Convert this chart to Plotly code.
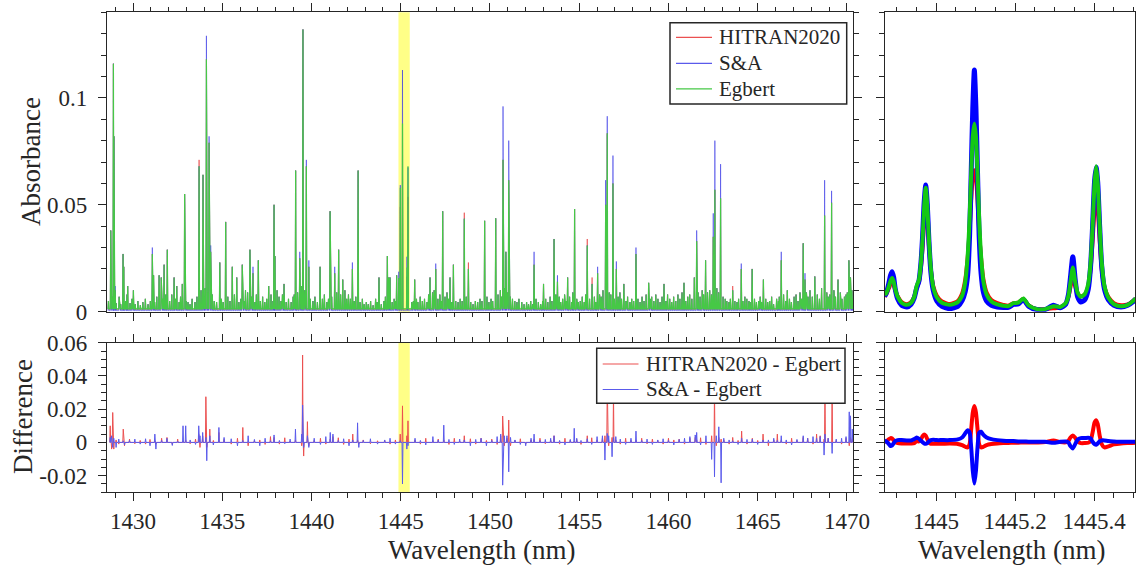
import plotly.graph_objects as go

# ---------------- data ----------------
# strong absorption lines (nm) and peak absorbance per line list
strong_nm = [
    1428.75, 1428.90, 1428.93, 1429.00, 1429.44, 1429.48, 1429.70, 1430.02, 1431.08, 1431.15,
    1431.46, 1431.58, 1431.74, 1431.92, 1432.30, 1432.45, 1432.76, 1432.89, 1433.70, 1433.92,
    1434.11, 1434.26, 1434.35, 1434.86, 1435.19, 1435.56, 1435.81, 1436.12, 1436.30, 1436.55,
    1436.72, 1437.02, 1437.60, 1437.90, 1437.95, 1438.46, 1439.11, 1439.34, 1439.52, 1439.71,
    1439.85, 1440.48, 1441.04, 1441.30, 1441.52, 1441.75, 1442.29, 1442.61, 1443.78, 1444.25,
    1444.33, 1444.40, 1444.77, 1444.889, 1444.974, 1445.097, 1445.346, 1445.405, 1445.78, 1446.64,
    1446.96, 1447.35, 1447.76, 1447.95, 1448.56, 1448.79, 1449.70, 1450.32, 1450.73, 1450.89,
    1451.05, 1452.47, 1453.00, 1453.59, 1453.78, 1454.35, 1454.74, 1455.45, 1455.72, 1456.03,
    1456.48, 1456.57, 1456.89, 1457.08, 1457.50, 1458.18, 1458.89, 1459.75, 1460.87, 1461.45,
    1461.58, 1462.08, 1462.51, 1462.60, 1462.92, 1463.60, 1464.08, 1464.69, 1465.32, 1466.32,
    1467.55, 1467.65, 1468.20, 1468.75, 1469.14, 1469.50, 1470.11, 1470.20]
egbert_strong = [
    0.038, 0.116, 0.082, 0.010, 0.027, 0.021, 0.012, 0.010, 0.027, 0.017,
    0.017, 0.016, 0.022, 0.029, 0.016, 0.012, 0.013, 0.055, 0.068, 0.064,
    0.118, 0.079, 0.028, 0.023, 0.042, 0.021, 0.016, 0.022, 0.010, 0.029,
    0.018, 0.024, 0.012, 0.050, 0.026, 0.013, 0.066, 0.025, 0.132, 0.068,
    0.021, 0.021, 0.047, 0.018, 0.029, 0.015, 0.020, 0.066, 0.016, 0.026,
    0.016, 0.016, 0.017, 0.0158, 0.058, 0.088, 0.0207, 0.068, 0.015, 0.016,
    0.020, 0.047, 0.016, 0.022, 0.0435, 0.020, 0.0425, 0.0437, 0.071, 0.028,
    0.0615, 0.022, 0.013, 0.034, 0.014, 0.016, 0.048, 0.031, 0.013, 0.018,
    0.050, 0.0834, 0.060, 0.020, 0.013, 0.027, 0.0135, 0.013, 0.0135, 0.016,
    0.033, 0.024, 0.035, 0.057, 0.053, 0.010, 0.020, 0.020, 0.015, 0.024,
    0.032, 0.015, 0.0165, 0.045, 0.051, 0.015, 0.024, 0.016]
sa_strong = [
    0.038, 0.116, 0.082, 0.012, 0.027, 0.021, 0.012, 0.010, 0.030, 0.017,
    0.017, 0.016, 0.022, 0.029, 0.016, 0.012, 0.013, 0.055, 0.068, 0.064,
    0.129, 0.082, 0.031, 0.023, 0.042, 0.021, 0.016, 0.022, 0.010, 0.029,
    0.021, 0.024, 0.012, 0.050, 0.026, 0.013, 0.066, 0.028, 0.132, 0.071,
    0.024, 0.021, 0.047, 0.021, 0.029, 0.015, 0.023, 0.066, 0.016, 0.026,
    0.016, 0.016, 0.017, 0.0187, 0.0592, 0.113, 0.0257, 0.0675, 0.015, 0.016,
    0.0225, 0.047, 0.016, 0.022, 0.0435, 0.020, 0.0425, 0.0437, 0.096, 0.028,
    0.080, 0.028, 0.013, 0.034, 0.017, 0.016, 0.048, 0.031, 0.013, 0.021,
    0.0615, 0.0914, 0.073, 0.0235, 0.013, 0.030, 0.0135, 0.013, 0.0135, 0.016,
    0.038, 0.024, 0.046, 0.080, 0.069, 0.010, 0.0225, 0.020, 0.015, 0.028,
    0.032, 0.018, 0.0165, 0.0615, 0.0565, 0.015, 0.024, 0.016]
hitran_strong = [
    0.038, 0.116, 0.082, 0.010, 0.027, 0.021, 0.012, 0.010, 0.027, 0.017,
    0.017, 0.016, 0.022, 0.029, 0.016, 0.012, 0.013, 0.055, 0.071, 0.064,
    0.118, 0.079, 0.028, 0.023, 0.042, 0.021, 0.016, 0.022, 0.010, 0.029,
    0.018, 0.024, 0.012, 0.050, 0.026, 0.013, 0.066, 0.025, 0.132, 0.068,
    0.021, 0.021, 0.047, 0.018, 0.029, 0.015, 0.020, 0.066, 0.016, 0.026,
    0.016, 0.016, 0.017, 0.0135, 0.049, 0.0662, 0.0163, 0.0537, 0.015, 0.016,
    0.020, 0.047, 0.016, 0.022, 0.0463, 0.023, 0.0425, 0.0437, 0.071, 0.028,
    0.0615, 0.022, 0.013, 0.034, 0.014, 0.016, 0.048, 0.034, 0.016, 0.018,
    0.050, 0.0834, 0.060, 0.020, 0.013, 0.027, 0.0135, 0.013, 0.0135, 0.016,
    0.033, 0.024, 0.035, 0.057, 0.053, 0.012, 0.020, 0.020, 0.015, 0.024,
    0.032, 0.015, 0.0165, 0.045, 0.051, 0.015, 0.024, 0.016]

# weak lines (common to the three line lists)
weak_nm = [
    1428.62, 1428.83,
    1429.05, 1429.22, 1429.31, 1429.58, 1429.66, 1429.83, 1429.94,
    1430.12, 1430.27, 1430.41, 1430.55, 1430.69, 1430.84, 1430.97,
    1431.21, 1431.33, 1431.67, 1431.84,
    1432.05, 1432.17, 1432.38, 1432.58, 1432.66, 1432.98,
    1433.08, 1433.19, 1433.31, 1433.47, 1433.58, 1433.81, 1433.99,
    1434.04, 1434.19, 1434.44, 1434.55, 1434.68, 1434.95,
    1435.05, 1435.31, 1435.43, 1435.68, 1435.93,
    1436.04, 1436.21, 1436.42, 1436.63, 1436.83, 1436.91,
    1437.13, 1437.26, 1437.38, 1437.49, 1437.73, 1437.84,
    1438.07, 1438.18, 1438.29, 1438.37, 1438.58, 1438.71, 1438.86, 1438.97,
    1439.03, 1439.22, 1439.42, 1439.62, 1439.93,
    1440.08, 1440.19, 1440.33, 1440.61, 1440.72, 1440.86, 1440.95,
    1441.13, 1441.41, 1441.63, 1441.87, 1441.97,
    1442.07, 1442.18, 1442.39, 1442.48, 1442.72, 1442.85, 1442.95,
    1443.07, 1443.18, 1443.31, 1443.45, 1443.59, 1443.68, 1443.91,
    1444.06, 1444.14, 1444.52, 1444.63, 1444.71,
    1445.62, 1445.71, 1445.88, 1445.96,
    1446.09, 1446.21, 1446.33, 1446.47, 1446.56, 1446.78, 1446.87,
    1447.08, 1447.19, 1447.27, 1447.48, 1447.59, 1447.68, 1447.86,
    1448.08, 1448.21, 1448.33, 1448.44, 1448.67, 1448.92,
    1449.05, 1449.18, 1449.31, 1449.44, 1449.55, 1449.83, 1449.94,
    1450.06, 1450.15, 1450.45, 1450.58, 1450.64, 1450.81, 1450.96,
    1451.14, 1451.26, 1451.39, 1451.51, 1451.62, 1451.78, 1451.91,
    1452.05, 1452.16, 1452.28, 1452.39, 1452.58, 1452.71, 1452.84, 1452.95,
    1453.12, 1453.24, 1453.37, 1453.47, 1453.69, 1453.88, 1453.96,
    1454.07, 1454.18, 1454.27, 1454.46, 1454.58, 1454.64, 1454.86, 1454.95,
    1455.06, 1455.17, 1455.28, 1455.36, 1455.58, 1455.85, 1455.93,
    1456.14, 1456.23, 1456.33, 1456.68, 1456.77, 1456.97,
    1457.18, 1457.28, 1457.37, 1457.62, 1457.71, 1457.84, 1457.94,
    1458.05, 1458.29, 1458.41, 1458.52, 1458.63, 1458.75, 1458.97,
    1459.06, 1459.18, 1459.29, 1459.41, 1459.53, 1459.64, 1459.86, 1459.95,
    1460.07, 1460.18, 1460.29, 1460.41, 1460.53, 1460.64, 1460.76, 1460.97,
    1461.08, 1461.19, 1461.31, 1461.66, 1461.77, 1461.89, 1461.97,
    1462.19, 1462.31, 1462.41, 1462.71, 1462.81,
    1463.06, 1463.18, 1463.27, 1463.39, 1463.47, 1463.72, 1463.84, 1463.93,
    1464.17, 1464.28, 1464.39, 1464.51, 1464.58, 1464.82, 1464.93,
    1465.06, 1465.14, 1465.22, 1465.45, 1465.56, 1465.67, 1465.78, 1465.89,
    1466.06, 1466.16, 1466.21, 1466.45, 1466.57, 1466.66, 1466.78, 1466.89,
    1467.04, 1467.15, 1467.26, 1467.37, 1467.46, 1467.73, 1467.82, 1467.93,
    1468.06, 1468.34, 1468.46, 1468.58, 1468.87, 1468.95,
    1469.04, 1469.27, 1469.36, 1469.63, 1469.72, 1469.86, 1469.95,
    1470.02, 1470.28, 1470.34]
weak_abs = [
    0.005, 0.007,
    0.004, 0.007, 0.0035, 0.005, 0.008, 0.004, 0.006,
    0.0035, 0.005, 0.003, 0.0045, 0.006, 0.0035, 0.005,
    0.0045, 0.007, 0.006, 0.008,
    0.005, 0.008, 0.006, 0.0045, 0.007, 0.005,
    0.0045, 0.0035, 0.006, 0.0045, 0.007, 0.010, 0.007,
    0.011, 0.009, 0.008, 0.005, 0.0045, 0.006,
    0.0045, 0.007, 0.005, 0.008, 0.0045,
    0.006, 0.005, 0.009, 0.007, 0.0045, 0.008,
    0.005, 0.007, 0.0045, 0.006, 0.008, 0.005,
    0.010, 0.007, 0.005, 0.008, 0.0045, 0.006, 0.0045, 0.007,
    0.008, 0.009, 0.012, 0.010, 0.006,
    0.005, 0.007, 0.0045, 0.006, 0.008, 0.0045, 0.006,
    0.007, 0.009, 0.008, 0.010, 0.006,
    0.008, 0.006, 0.005, 0.007, 0.0045, 0.006, 0.0035,
    0.0045, 0.0035, 0.005, 0.003, 0.006, 0.0045, 0.0035,
    0.005, 0.007, 0.0045, 0.006, 0.005,
    0.0045, 0.005, 0.006, 0.0045,
    0.007, 0.005, 0.006, 0.0045, 0.008, 0.009, 0.010,
    0.006, 0.008, 0.005, 0.007, 0.009, 0.006, 0.0045,
    0.005, 0.0045, 0.006, 0.005, 0.007, 0.0045,
    0.0035, 0.005, 0.0045, 0.006, 0.005, 0.007, 0.0045,
    0.006, 0.005, 0.008, 0.010, 0.007, 0.011, 0.009,
    0.007, 0.006, 0.005, 0.0045, 0.006, 0.0045, 0.0035,
    0.0045, 0.0035, 0.005, 0.0035, 0.006, 0.0045, 0.0035, 0.005,
    0.006, 0.0045, 0.007, 0.005, 0.008, 0.007, 0.0045,
    0.006, 0.008, 0.005, 0.007, 0.0045, 0.009, 0.006, 0.0045,
    0.005, 0.007, 0.0045, 0.008, 0.006, 0.007, 0.0045,
    0.008, 0.007, 0.010, 0.009, 0.008, 0.006,
    0.007, 0.009, 0.006, 0.005, 0.007, 0.0045, 0.006,
    0.005, 0.006, 0.0045, 0.007, 0.005, 0.008, 0.006,
    0.007, 0.005, 0.008, 0.006, 0.0045, 0.007, 0.005, 0.008,
    0.006, 0.0045, 0.007, 0.005, 0.008, 0.006, 0.009, 0.005,
    0.007, 0.008, 0.006, 0.009, 0.007, 0.010, 0.008,
    0.009, 0.010, 0.008, 0.011, 0.009,
    0.007, 0.006, 0.005, 0.0045, 0.006, 0.005, 0.0045, 0.006,
    0.005, 0.007, 0.006, 0.005, 0.0045, 0.006, 0.0045,
    0.005, 0.007, 0.0045, 0.006, 0.0045, 0.005, 0.007, 0.0035,
    0.006, 0.005, 0.007, 0.008, 0.005, 0.010, 0.006, 0.0045,
    0.007, 0.008, 0.005, 0.009, 0.006, 0.009, 0.007, 0.010,
    0.007, 0.008, 0.006, 0.011, 0.009, 0.007,
    0.008, 0.010, 0.007, 0.009, 0.006, 0.007, 0.008,
    0.009, 0.010, 0.006]

# absorbance level between lines
egbert_floor = 0.0013
sa_floor = 0.0005
hitran_floor = 0.0011

# difference spectrum (full range)
diff_nm = [
    1428.72, 1428.80, 1428.86, 1428.92, 1429.05, 1429.20, 1429.45, 1429.52, 1429.80, 1430.10,
    1430.40, 1430.70, 1430.95, 1431.22, 1431.28, 1431.60, 1431.90, 1432.20, 1432.50, 1432.80,
    1432.95, 1433.20, 1433.50, 1433.68, 1433.75, 1433.90, 1434.08, 1434.13, 1434.30, 1434.50,
    1434.81, 1435.10, 1435.50, 1435.85, 1436.15, 1436.45, 1436.80, 1437.10, 1437.40, 1437.70,
    1437.90, 1438.20, 1438.50, 1438.80, 1439.10, 1439.45, 1439.50, 1439.56, 1439.77, 1439.85,
    1440.15, 1440.50, 1440.80, 1441.05, 1441.20, 1441.50, 1441.80, 1442.10, 1442.31, 1442.58,
    1442.65, 1442.90, 1443.30, 1443.70, 1444.10, 1444.40, 1444.70, 1444.97, 1445.097, 1445.34,
    1445.405, 1445.80, 1446.10, 1446.40, 1446.80, 1447.10, 1447.41, 1447.70, 1448.00, 1448.30,
    1448.56, 1448.90, 1449.20, 1449.50, 1449.80, 1450.10, 1450.40, 1450.60, 1450.71, 1450.80,
    1450.95, 1451.05, 1451.15, 1451.40, 1451.70, 1452.00, 1452.30, 1452.47, 1452.80, 1453.10,
    1453.40, 1453.59, 1453.90, 1454.20, 1454.50, 1454.72, 1454.86, 1455.10, 1455.45, 1455.70,
    1456.00, 1456.30, 1456.44, 1456.57, 1456.65, 1456.84, 1456.92, 1457.05, 1457.30, 1457.60,
    1457.90, 1458.18, 1458.50, 1458.80, 1459.10, 1459.40, 1459.70, 1460.00, 1460.30, 1460.60,
    1460.90, 1461.20, 1461.50, 1461.58, 1461.80, 1462.10, 1462.42, 1462.58, 1462.68, 1462.82,
    1462.95, 1463.10, 1463.40, 1463.60, 1463.90, 1464.10, 1464.40, 1464.70, 1465.00, 1465.30,
    1465.60, 1465.90, 1466.10, 1466.32, 1466.60, 1466.90, 1467.20, 1467.55, 1467.80, 1468.10,
    1468.30, 1468.50, 1468.72, 1468.77, 1468.95, 1469.17, 1469.40, 1469.70, 1469.95, 1470.13,
    1470.20, 1470.30]
hitran_minus_egbert = [
    0.010, -0.004, 0.018, -0.004, 0.0015, -0.001, 0.008, -0.002, 0.002, -0.0008,
    0.0012, -0.001, 0.0018, 0.001, -0.001, 0.0025, 0.003, -0.0012, 0.002, 0.0008,
    0.0015, -0.0008, 0.002, 0.005, -0.003, 0.004, 0.0275, -0.003, 0.008, 0.0012,
    0.006, 0.0018, -0.001, 0.0025, 0.009, -0.002, 0.001, 0.0015, -0.0012, 0.0035,
    0.003, -0.001, 0.0028, 0.0008, 0.0015, -0.002, 0.0526, -0.0082, 0.0125, -0.002,
    0.0012, 0.0025, -0.001, 0.002, 0.0035, 0.0028, -0.0012, 0.002, 0.005, 0.0015,
    -0.001, 0.0015, -0.0008, 0.001, 0.0012, -0.001, 0.0015, 0.005, 0.022, 0.004,
    0.013, 0.0015, -0.001, 0.0025, 0.0012, 0.002, 0.0015, -0.0012, 0.0025, 0.0008,
    0.004, 0.0022, -0.001, 0.0025, 0.0012, 0.002, -0.0012, 0.004, 0.0159, -0.002,
    0.0025, 0.0135, -0.002, 0.0012, 0.0022, -0.001, 0.0015, 0.0018, 0.0025, -0.0008,
    0.0012, 0.004, -0.001, 0.0025, 0.0015, 0.0008, 0.0018, -0.0012, 0.004, 0.0028,
    0.0015, 0.0025, 0.004, 0.035, -0.002, 0.003, 0.030, 0.0015, -0.001, 0.0025,
    0.0012, 0.0015, 0.0025, -0.0008, 0.002, 0.0012, -0.001, 0.0025, 0.0015, 0.002,
    -0.001, 0.0025, 0.003, 0.0015, 0.0028, -0.0012, 0.004, 0.032, -0.002, 0.003,
    0.002, 0.0015, -0.001, 0.003, 0.0012, 0.0068, -0.001, 0.0025, 0.0012, 0.005,
    -0.002, 0.0015, 0.005, 0.0012, -0.001, 0.0025, 0.0012, 0.003, 0.0025, -0.001,
    0.005, 0.004, 0.002, 0.032, 0.0025, 0.032, 0.0012, -0.001, 0.0025, -0.002,
    0.003, 0.002]
sa_minus_egbert = [
    0.003, 0.004, -0.003, 0.0025, -0.003, 0.002, 0.001, -0.0015, 0.0012, 0.002,
    -0.001, 0.0022, -0.002, 0.005, -0.004, 0.0012, 0.0025, -0.0018, 0.0008, 0.010,
    0.010, 0.0015, -0.0012, 0.010, 0.004, 0.006, 0.003, -0.011, 0.004, -0.0015,
    0.009, 0.003, 0.0022, -0.002, 0.0012, 0.004, 0.0018, -0.002, 0.0025, 0.001,
    0.0045, 0.0012, -0.0008, 0.002, 0.008, 0.005, 0.0225, -0.003, 0.004, -0.003,
    0.0025, -0.0012, 0.0035, 0.006, 0.005, 0.0012, 0.0022, -0.002, 0.0015, 0.0118,
    -0.003, 0.0012, 0.0022, -0.001, 0.0015, 0.0025, -0.001, 0.001, -0.025, -0.004,
    -0.002, 0.0025, 0.0012, -0.0015, 0.0035, 0.0015, 0.0104, 0.0018, -0.0012, 0.002,
    0.0015, -0.002, 0.0018, 0.0025, -0.002, 0.0012, 0.0035, 0.005, -0.0257, 0.004,
    0.004, -0.0177, 0.003, 0.0015, -0.0012, -0.002, 0.0025, 0.005, 0.0012, 0.0018,
    0.0025, 0.004, 0.0012, -0.0015, 0.0018, 0.0085, 0.0025, 0.0012, 0.0022, -0.0012,
    0.0035, 0.004, -0.0106, 0.0054, 0.004, -0.0086, 0.003, 0.0035, 0.002, -0.0012,
    0.0025, 0.0068, 0.0012, 0.002, -0.0012, 0.0015, 0.0022, 0.0012, -0.0015, 0.0018,
    0.0025, 0.0035, 0.0045, 0.006, -0.0015, 0.004, -0.0102, -0.0207, 0.004, 0.0094,
    -0.0243, 0.0025, 0.0015, 0.001, -0.0012, 0.0025, 0.0018, 0.002, -0.0012, 0.0015,
    0.0015, 0.0025, 0.0012, 0.004, 0.0015, -0.0015, 0.0018, 0.004, 0.0025, 0.0035,
    0.0025, 0.0035, -0.0076, 0.005, 0.0025, -0.0066, 0.002, 0.0025, 0.0035, 0.0184,
    0.016, 0.008]

# zoomed window (highlighted band)
zoom_nm = [
    1444.870, 1444.875, 1444.881, 1444.885, 1444.889, 1444.893, 1444.897, 1444.903, 1444.913, 1444.926,
    1444.937, 1444.945, 1444.951, 1444.957, 1444.962, 1444.966, 1444.970, 1444.974, 1444.978, 1444.982,
    1444.987, 1444.993, 1445.002, 1445.015, 1445.035, 1445.055, 1445.066, 1445.074, 1445.080, 1445.085,
    1445.089, 1445.093, 1445.097, 1445.101, 1445.105, 1445.109, 1445.114, 1445.120, 1445.128, 1445.140,
    1445.155, 1445.170, 1445.183, 1445.196, 1445.208, 1445.221, 1445.234, 1445.255, 1445.276, 1445.297,
    1445.314, 1445.328, 1445.335, 1445.340, 1445.346, 1445.352, 1445.358, 1445.366, 1445.376, 1445.385,
    1445.391, 1445.396, 1445.401, 1445.405, 1445.409, 1445.414, 1445.419, 1445.426, 1445.436, 1445.450,
    1445.468, 1445.485, 1445.497, 1445.505]
zoom_egbert = [
    0.0078, 0.0090, 0.0120, 0.0145, 0.0158, 0.0140, 0.0105, 0.0070, 0.0042, 0.0032,
    0.0042, 0.0070, 0.0120, 0.0150, 0.0230, 0.0340, 0.0490, 0.0580, 0.0490, 0.0340,
    0.0200, 0.0115, 0.0068, 0.0042, 0.0032, 0.0045, 0.0075, 0.0140, 0.0260, 0.0440,
    0.0650, 0.0820, 0.0880, 0.0820, 0.0650, 0.0440, 0.0260, 0.0140, 0.0080, 0.0048,
    0.0034, 0.0028, 0.0026, 0.0040, 0.0042, 0.0062, 0.0030, 0.0012, 0.0012, 0.0026,
    0.0022, 0.0040, 0.0075, 0.0135, 0.0207, 0.0140, 0.0090, 0.0070, 0.0082, 0.0130,
    0.0230, 0.0400, 0.0600, 0.0680, 0.0600, 0.0400, 0.0230, 0.0120, 0.0065, 0.0035,
    0.0025, 0.0032, 0.0048, 0.0062]
zoom_sa = [
    0.0072, 0.0090, 0.0135, 0.0170, 0.0187, 0.0160, 0.0105, 0.0060, 0.0030, 0.0022,
    0.0035, 0.0065, 0.0110, 0.0145, 0.0230, 0.0350, 0.0510, 0.0592, 0.0500, 0.0335,
    0.0185, 0.0100, 0.0050, 0.0025, 0.0015, 0.0025, 0.0052, 0.0095, 0.0170, 0.0360,
    0.0650, 0.0950, 0.1130, 0.0950, 0.0650, 0.0360, 0.0180, 0.0090, 0.0050, 0.0030,
    0.0022, 0.0020, 0.0020, 0.0034, 0.0036, 0.0056, 0.0026, 0.0010, 0.0010, 0.0030,
    0.0018, 0.0035, 0.0080, 0.0160, 0.0257, 0.0150, 0.0070, 0.0045, 0.0055, 0.0105,
    0.0215, 0.0400, 0.0610, 0.0675, 0.0605, 0.0395, 0.0215, 0.0105, 0.0055, 0.0030,
    0.0022, 0.0030, 0.0045, 0.0060]
zoom_hitran = [
    0.0070, 0.0085, 0.0110, 0.0128, 0.0135, 0.0125, 0.0100, 0.0072, 0.0045, 0.0035,
    0.0045, 0.0070, 0.0110, 0.0140, 0.0210, 0.0300, 0.0420, 0.0490, 0.0430, 0.0310,
    0.0195, 0.0120, 0.0075, 0.0048, 0.0036, 0.0050, 0.0085, 0.0150, 0.0250, 0.0380,
    0.0520, 0.0630, 0.0662, 0.0630, 0.0520, 0.0380, 0.0250, 0.0150, 0.0090, 0.0055,
    0.0040, 0.0032, 0.0028, 0.0040, 0.0042, 0.0060, 0.0030, 0.0012, 0.0012, 0.0016,
    0.0020, 0.0038, 0.0070, 0.0115, 0.0163, 0.0120, 0.0085, 0.0072, 0.0080, 0.0120,
    0.0200, 0.0330, 0.0480, 0.0537, 0.0480, 0.0330, 0.0200, 0.0115, 0.0068, 0.0040,
    0.0030, 0.0034, 0.0048, 0.0060]
zoom_hitran_diff = [
    0.0000, 0.0008, 0.0020, 0.0026, 0.0024, 0.0012, 0.0002, -0.0004, -0.0006, -0.0006,
    -0.0006, -0.0004, 0.0008, 0.0006, 0.0018, 0.0038, 0.0048, 0.0040, 0.0020, 0.0000,
    -0.0008, -0.0008, -0.0008, -0.0008, -0.0007, -0.0009, -0.0016, -0.0026, -0.0030, -0.0010,
    0.0080, 0.0180, 0.0219, 0.0180, 0.0080, -0.0010, -0.0030, -0.0026, -0.0016, -0.0010,
    -0.0006, -0.0004, -0.0003, -0.0002, -0.0002, 0.0000, -0.0001, 0.0000, 0.0002, 0.0012,
    0.0002, 0.0000, 0.0010, 0.0030, 0.0042, 0.0028, 0.0006, -0.0004, -0.0004, -0.0002,
    0.0010, 0.0060, 0.0120, 0.0134, 0.0110, 0.0040, -0.0010, -0.0030, -0.0024, -0.0012,
    -0.0006, -0.0004, -0.0003, -0.0002]
zoom_sa_diff = [
    0.0012, 0.0005, -0.0010, -0.0022, -0.0018, -0.0004, 0.0008, 0.0014, 0.0014, 0.0012,
    0.0012, 0.0020, 0.0030, 0.0022, 0.0010, 0.0002, -0.0006, -0.0008, -0.0004, 0.0006,
    0.0014, 0.0016, 0.0014, 0.0014, 0.0014, 0.0018, 0.0030, 0.0055, 0.0074, 0.0060,
    -0.0030, -0.0170, -0.0247, -0.0170, -0.0030, 0.0058, 0.0064, 0.0045, 0.0030, 0.0020,
    0.0014, 0.0010, 0.0008, 0.0008, 0.0006, 0.0006, 0.0004, 0.0004, 0.0004, -0.0002,
    0.0004, 0.0006, 0.0000, -0.0022, -0.0036, -0.0010, 0.0016, 0.0026, 0.0026, 0.0028,
    0.0024, 0.0004, -0.0010, -0.0014, -0.0006, 0.0008, 0.0012, 0.0012, 0.0008, 0.0006,
    0.0004, 0.0004, 0.0004, 0.0004]

# axes ticks
main_xticks = [1430, 1435, 1440, 1445, 1450, 1455, 1460, 1465, 1470]
main_xticktext = ["1430", "1435", "1440", "1445", "1450", "1455", "1460", "1465", "1470"]
zoom_xticks = [1445.0, 1445.2, 1445.4]
zoom_xticktext = ["1445", "1445.2", "1445.4"]
abs_yticks = [0, 0.05, 0.1]
abs_yticktext = ["0", "0.05", "0.1"]
diff_yticks = [-0.02, 0, 0.02, 0.04, 0.06]
diff_yticktext = ["-0.02", "0", "0.02", "0.04", "0.06"]

for a, b in [(strong_nm, egbert_strong), (strong_nm, sa_strong), (strong_nm, hitran_strong),
             (weak_nm, weak_abs), (diff_nm, hitran_minus_egbert), (diff_nm, sa_minus_egbert),
             (zoom_nm, zoom_egbert), (zoom_nm, zoom_sa), (zoom_nm, zoom_hitran),
             (zoom_nm, zoom_hitran_diff), (zoom_nm, zoom_sa_diff)]:
    assert len(a) == len(b), (len(a), len(b))

# ---------------- helpers ----------------
W, H = 1136, 571
HALF = 0.025  # nm, drawn half-width of a line


def sticks(nm, vals, floor):
    xs, ys = [], []
    for p, v in sorted(zip(nm, vals)):
        xs += [p - HALF, p, p + HALF]
        ys += [floor, v, floor]
    return xs, ys


def px(xp, yp):
    return xp / W, 1 - yp / H


FONT = "Liberation Serif"
TXT = "#262626"
RED_T, BLUE_T, GREEN_T = "rgba(230,50,50,0.6)", "rgba(60,60,230,0.6)", "rgb(70,200,70)"
RED_L, BLUE_L = "rgb(235,80,80)", "rgb(90,90,235)"
RED, BLUE, GREEN = "rgb(255,0,0)", "rgb(0,0,255)", "rgb(20,200,20)"

fig = go.Figure()

# top-left absorbance
for name, strong, floor, col, wd in [("HITRAN2020", hitran_strong, hitran_floor, RED_T, 1),
                                     ("S&A", sa_strong, sa_floor, BLUE_T, 1),
                                     ("Egbert", egbert_strong, egbert_floor, GREEN_T, 1.2)]:
    xs, ys = sticks(strong_nm + weak_nm, strong + weak_abs, floor)
    fig.add_trace(go.Scatter(x=xs, y=ys, mode="lines", name=name, xaxis="x", yaxis="y",
                             line=dict(color=col, width=wd), showlegend=False))

# top-right zoom
for ys, col, wd in [(zoom_hitran, RED, 4), (zoom_sa, BLUE, 5), (zoom_egbert, GREEN, 4)]:
    fig.add_trace(go.Scatter(x=zoom_nm, y=ys, mode="lines", xaxis="x2", yaxis="y2",
                             line=dict(color=col, width=wd, shape="spline", smoothing=0.6),
                             showlegend=False))

# bottom-left difference
for name, d, col in [("HITRAN2020 - Egbert", hitran_minus_egbert, RED_L),
                     ("S&A - Egbert", sa_minus_egbert, BLUE_L)]:
    xs, ys = sticks(diff_nm, d, 0.0)
    fig.add_trace(go.Scatter(x=xs, y=ys, mode="lines", name=name, xaxis="x3", yaxis="y3",
                             line=dict(color=col, width=1), showlegend=False))

# bottom-right difference zoom
for ys, col in [(zoom_hitran_diff, RED), (zoom_sa_diff, BLUE)]:
    fig.add_trace(go.Scatter(x=zoom_nm, y=ys, mode="lines", xaxis="x4", yaxis="y4",
                             line=dict(color=col, width=4, shape="spline", smoothing=0.6),
                             showlegend=False))

LEFT = [107 / W, 853 / W]
RIGHT = [885 / W, 1135.3 / W]
TOP = [1 - 311.7 / H, 1 - 12.3 / H]
BOT = [1 - 492.3 / H, 1 - 342.7 / H]

common = dict(showline=True, linecolor=TXT, linewidth=1.3, mirror="allticks", ticks="outside",
              ticklen=8, tickwidth=1.2, tickcolor=TXT, showgrid=False, zeroline=False,
              tickfont=dict(family=FONT, size=23, color=TXT), tickmode="array", automargin=False)


def minor(d, t0):
    return dict(ticks="outside", ticklen=4.5, tickwidth=1.1, tickcolor=TXT, dtick=d, tick0=t0,
                tickmode="linear", showgrid=False)


# hand-drawn legends (box, line samples, labels) in pixel positions
legend_specs = [
    ((670, 22.7, 846.7, 104), 676, 712, 717,
     [("HITRAN2020", RED_L, 37.3), ("S&A", BLUE_L, 63.3), ("Egbert", GREEN_T, 88.8)]),
    ((596.7, 348.3, 845, 403.3), 602.7, 638.5, 643.5,
     [("HITRAN2020 - Egbert", RED_L, 364), ("S&A - Egbert", BLUE_L, 389.5)]),
]

shapes = [
    dict(type="rect", xref="x", yref="y domain", x0=1444.871, x1=1445.504, y0=0, y1=1,
         fillcolor="rgba(255,255,70,0.65)", line=dict(width=0), layer="below"),
    dict(type="rect", xref="x3", yref="y3 domain", x0=1444.871, x1=1445.504, y0=0, y1=1,
         fillcolor="rgba(255,255,70,0.65)", line=dict(width=0), layer="below"),
]
annotations = [
    dict(text="Absorbance", x=31 / W, y=1 - 162 / H, xref="paper", yref="paper",
         textangle=-90, showarrow=False, xanchor="center", yanchor="middle",
         font=dict(family=FONT, size=27, color=TXT)),
    dict(text="Difference", x=23 / W, y=1 - 417 / H, xref="paper", yref="paper",
         textangle=-90, showarrow=False, xanchor="center", yanchor="middle",
         font=dict(family=FONT, size=27, color=TXT)),
    dict(text="Wavelength (nm)", x=482 / W, y=1 - 550 / H, xref="paper", yref="paper",
         showarrow=False, xanchor="center", yanchor="middle",
         font=dict(family=FONT, size=27, color=TXT)),
    dict(text="Wavelength (nm)", x=1012 / W, y=1 - 550 / H, xref="paper", yref="paper",
         showarrow=False, xanchor="center", yanchor="middle",
         font=dict(family=FONT, size=27, color=TXT)),
]
for (bx0, by0, bx1, by1), lx0, lx1, tx, entries in legend_specs:
    x0, y0 = px(bx0, by0)
    x1, y1 = px(bx1, by1)
    shapes.append(dict(type="rect", xref="paper", yref="paper", x0=x0, x1=x1, y0=y1, y1=y0,
                       fillcolor="white", line=dict(color=TXT, width=1.5), layer="above"))
    for label, col, ey in entries:
        a0, yy = px(lx0, ey)
        a1, _ = px(lx1, ey)
        shapes.append(dict(type="line", xref="paper", yref="paper", x0=a0, x1=a1, y0=yy, y1=yy,
                           line=dict(color=col, width=1.2), layer="above"))
        annotations.append(dict(text=label, x=tx / W, y=yy, xref="paper", yref="paper",
                                showarrow=False, xanchor="left", yanchor="middle",
                                font=dict(family=FONT, size=21, color=TXT)))

fig.update_layout(
    width=W, height=H, margin=dict(l=0, r=0, t=0, b=0, autoexpand=False),
    paper_bgcolor="white", plot_bgcolor="white", showlegend=False,
    font=dict(family=FONT, color=TXT),
    xaxis=dict(domain=LEFT, anchor="y", range=[1428.54, 1470.34], tickvals=main_xticks,
               showticklabels=False, minor=minor(1, 1430), **common),
    yaxis=dict(domain=TOP, anchor="x", range=[0, 0.14], tickvals=abs_yticks, ticktext=abs_yticktext,
               minor=minor(0.01, 0), ticklabelstandoff=6, **common),
    xaxis2=dict(domain=RIGHT, anchor="y2", range=[1444.871, 1445.504], tickvals=zoom_xticks,
                showticklabels=False, minor=minor(0.05, 1445), **common),
    yaxis2=dict(domain=TOP, anchor="x2", range=[0, 0.14], tickvals=abs_yticks,
                showticklabels=False, minor=minor(0.01, 0), **common),
    xaxis3=dict(domain=LEFT, anchor="y3", range=[1428.54, 1470.34], tickvals=main_xticks,
                ticktext=main_xticktext, minor=minor(1, 1430), **common),
    yaxis3=dict(domain=BOT, anchor="x3", range=[-0.03, 0.06], tickvals=diff_yticks,
                ticktext=diff_yticktext, minor=minor(0.005, 0), ticklabelstandoff=6, **common),
    xaxis4=dict(domain=RIGHT, anchor="y4", range=[1444.871, 1445.504], tickvals=zoom_xticks,
                ticktext=zoom_xticktext, minor=minor(0.05, 1445), **common),
    yaxis4=dict(domain=BOT, anchor="x4", range=[-0.03, 0.06], tickvals=diff_yticks,
                showticklabels=False, minor=minor(0.005, 0), **common),
    shapes=shapes,
    annotations=annotations,
)

fig.write_html("out.html")
